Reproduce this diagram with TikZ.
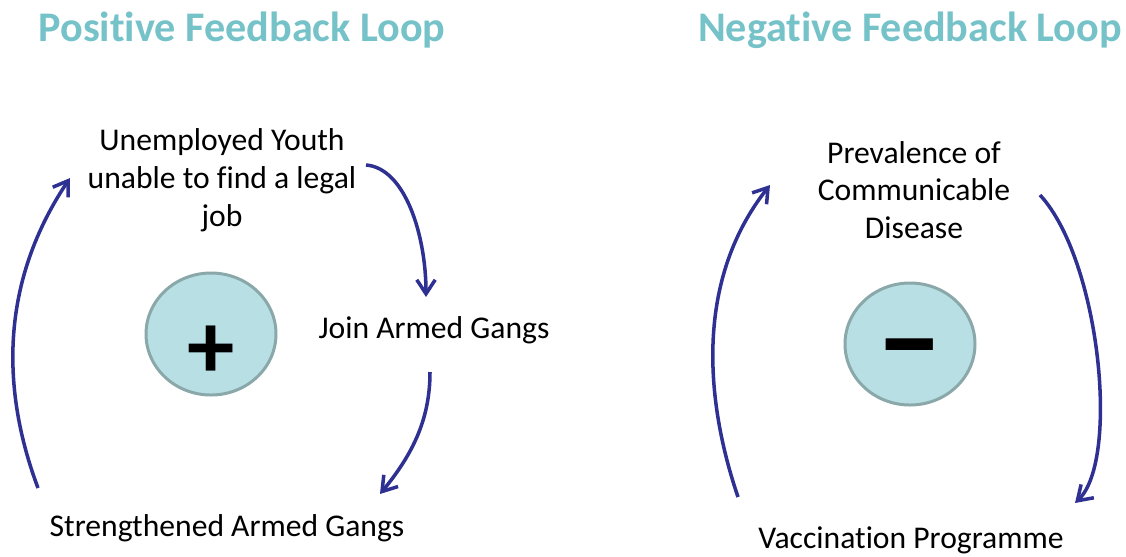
\documentclass[tikz,border=0pt]{standalone}
\usepackage{fontspec}
\setmainfont{Carlito}[Ligatures=NoCommon]
\usetikzlibrary{positioning,calc,arrows.meta}
\definecolor{titleteal}{HTML}{76C2C9}
\definecolor{loopblue}{HTML}{2E3192}
\definecolor{signfill}{HTML}{B8E0E4}
\definecolor{signrim}{HTML}{8AA7A9}
\tikzset{>={Straight Barb[length=8pt,width=10.5pt]}}
\tikzset{
  ttl/.style={text=titleteal,font=\fontsize{24}{28}\selectfont\bfseries},
  lbl/.style={align=center,font=\fontsize{18}{21.5}\selectfont},
  sign/.style={ellipse,draw=signrim,line width=1.7pt,fill=signfill,minimum width=130*0.02cm,minimum height=122*0.02cm,inner sep=0pt},
  flow/.style={->,draw=loopblue,line width=2pt}
}
\usetikzlibrary{shapes.geometric}

\begin{document}
\begin{tikzpicture}[x=0.02cm,y=-0.02cm]
\useasboundingbox (0,0) rectangle (1126,556);
% titles
\node[ttl] (tpos) at (242,30) {Positive Feedback Loop};
\node[ttl] (tneg) at (910,30) {Negative Feedback Loop};
% positive loop
\node[sign] (plus) at (211,334) {};
\node[font=\fontsize{54}{54}\selectfont\bfseries] (plussym) at (211,352) {+};
\node[lbl] (youth) at (222,180) {Unemployed Youth\\unable to find a legal\\job};
\node[lbl] (join) at (434,330) {Join Armed Gangs};
\node[lbl] (gangs) at (227,528) {Strengthened Armed Gangs};
\coordinate (a1) at (366,165);
\coordinate (a2) at (426,297);
\coordinate (b1) at (430,372);
\coordinate (b2) at (380,494);
\coordinate (c1) at (38,488);
\coordinate (c2) at (70,178);
\draw[flow] (a1) .. controls (405,168) and (426,235) .. (a2);
\draw[flow] (b1) .. controls (430,420) and (412,455) .. (b2);
\draw[flow] (c1) .. controls (5,400) and (-5,290) .. (c2);
% negative loop
\node[sign] (minus) at (910,344) {};
\node[font=\fontsize{76}{76}\selectfont\bfseries] (minussym) at (910,361) {–};
\node[lbl] (disease) at (914,190) {Prevalence of\\Communicable\\Disease};
\node[lbl] (vacc) at (911,540) {Vaccination Programme};
\coordinate (d1) at (738,497);
\coordinate (d2) at (770,185);
\coordinate (e1) at (1040,195);
\coordinate (e2) at (1075,503);
\draw[flow] (d1) .. controls (705,400) and (695,280) .. (d2);
\draw[flow] (e1) .. controls (1100,260) and (1120,460) .. (e2);
\end{tikzpicture}
\end{document}
